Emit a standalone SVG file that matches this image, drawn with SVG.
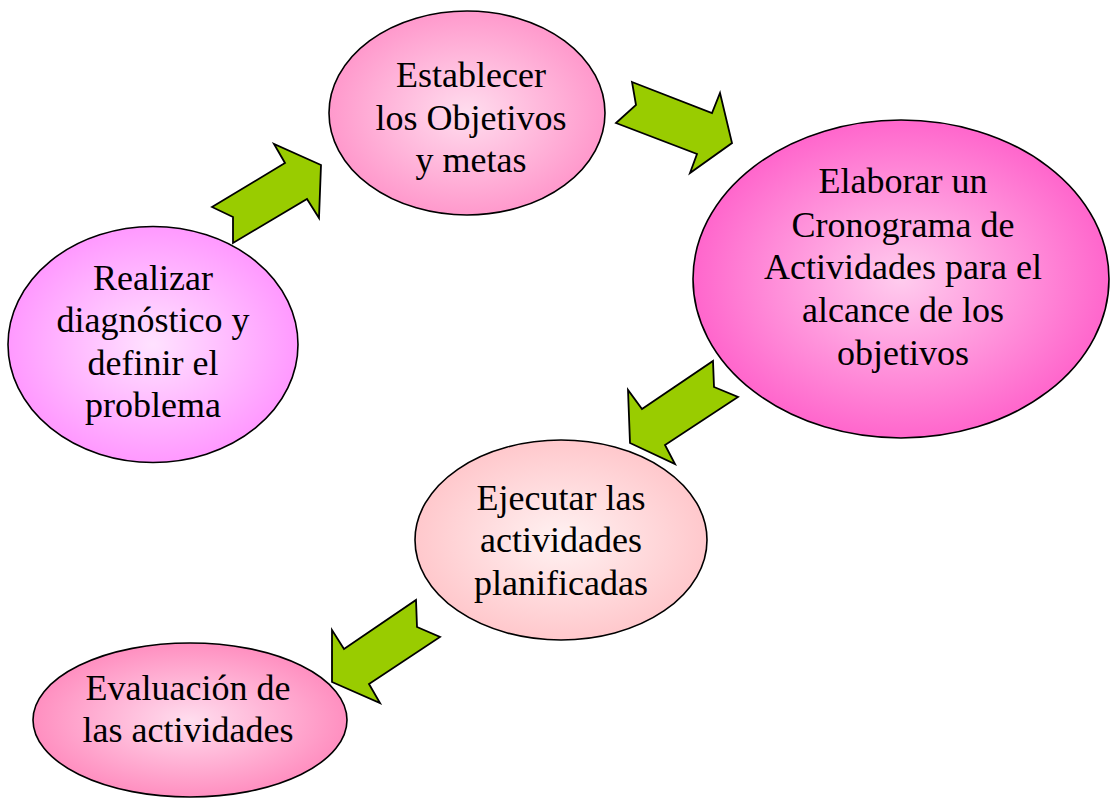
<svg xmlns="http://www.w3.org/2000/svg" width="1110" height="799" viewBox="0 0 1110 799">
<style>
.node{stroke:#000;stroke-width:1.6}
.lbl{font-family:"Liberation Serif","Times New Roman",serif;font-size:36px;fill:#000;text-anchor:middle}
.arrow{fill:#99CC00;stroke:#000;stroke-width:1.8;stroke-linejoin:miter}
</style>
<defs>
<radialGradient id="g1"><stop offset="0" stop-color="#FFE2FF"/><stop offset="1" stop-color="#FF99FF"/></radialGradient>
<radialGradient id="g2"><stop offset="0" stop-color="#FFDDEE"/><stop offset="1" stop-color="#FF99CC"/></radialGradient>
<radialGradient id="g3"><stop offset="0" stop-color="#FFCCEE"/><stop offset="1" stop-color="#FF66CC"/></radialGradient>
<radialGradient id="g4"><stop offset="0" stop-color="#FFF2F2"/><stop offset="1" stop-color="#FFC8CC"/></radialGradient>
<radialGradient id="g5"><stop offset="0" stop-color="#FFDDEE"/><stop offset="1" stop-color="#FF8FC0"/></radialGradient>
</defs>
<g id="n1">
<ellipse class="node" cx="153" cy="344.5" rx="145" ry="118" fill="url(#g1)"/>
<text class="lbl" x="153" y="290">Realizar</text>
<text class="lbl" x="153" y="332">diagnóstico y</text>
<text class="lbl" x="153" y="375">definir el</text>
<text class="lbl" x="153" y="417">problema</text>
</g>
<g id="n2">
<ellipse class="node" cx="467" cy="113" rx="138" ry="102" fill="url(#g2)"/>
<text class="lbl" x="471" y="87">Establecer</text>
<text class="lbl" x="471" y="130">los Objetivos</text>
<text class="lbl" x="471" y="172">y metas</text>
</g>
<g id="n3">
<ellipse class="node" cx="901" cy="279" rx="208" ry="159" fill="url(#g3)"/>
<text class="lbl" x="903" y="193">Elaborar un</text>
<text class="lbl" x="903" y="237">Cronograma de</text>
<text class="lbl" x="903" y="279">Actividades para el</text>
<text class="lbl" x="903" y="322">alcance de los</text>
<text class="lbl" x="903" y="365">objetivos</text>
</g>
<g id="n4">
<ellipse class="node" cx="561" cy="540" rx="146" ry="100" fill="url(#g4)"/>
<text class="lbl" x="561" y="510">Ejecutar las</text>
<text class="lbl" x="561" y="552">actividades</text>
<text class="lbl" x="561" y="595">planificadas</text>
</g>
<g id="n5">
<ellipse class="node" cx="190" cy="720" rx="157" ry="77" fill="url(#g5)"/>
<text class="lbl" x="188" y="700">Evaluación de</text>
<text class="lbl" x="188" y="742">las actividades</text>
</g>
<g id="connectors">
<polygon class="arrow" points="212,207 285,163 274,144 321,165 319,218 307,199 233,243 233,217"/>
<polygon class="arrow" points="632,82 712,113 720,93 732,143 690,173 697,154 616,123 636,105"/>
<polygon class="arrow" points="713,361 714,387 738,397 665,445 675,464 630,443 628,390 642,409"/>
<polygon class="arrow" points="416,600 417,627 440,637 369,684 380,703 332,682 332,630 344,649"/>
</g>
</svg>
